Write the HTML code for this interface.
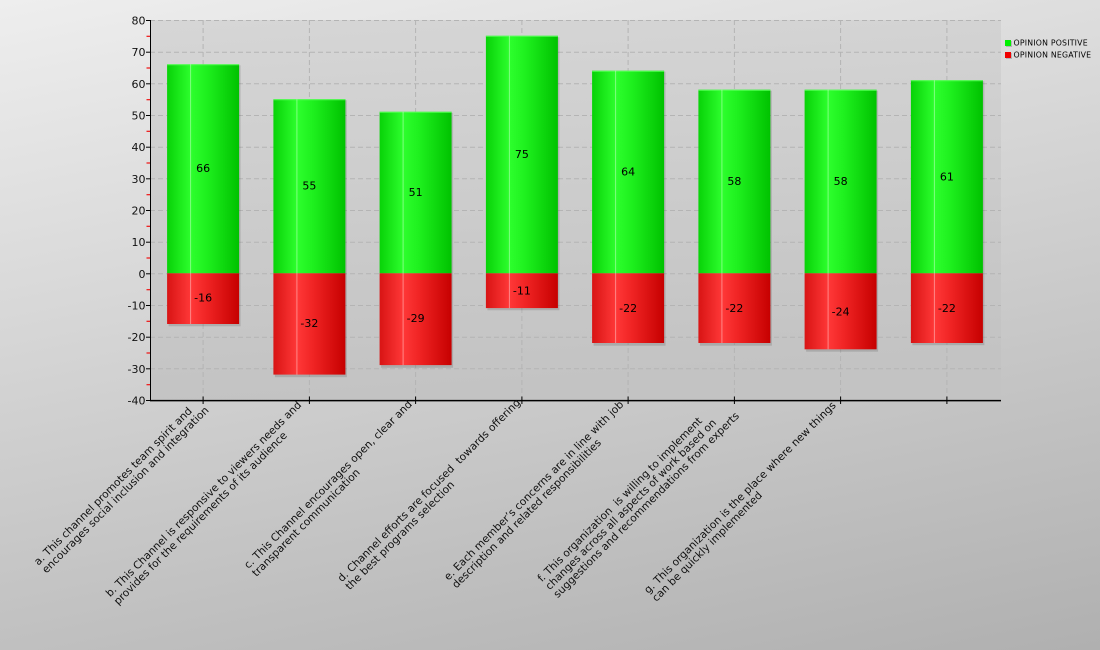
<!DOCTYPE html>
<html><head><meta charset="utf-8"><style>
html,body{margin:0;padding:0;}
body{width:1100px;height:650px;overflow:hidden;}
svg{display:block;font-family:"DejaVu Sans","Liberation Sans",sans-serif;}
</style></head><body>
<svg width="1100" height="650" viewBox="0 0 1100 650" xmlns="http://www.w3.org/2000/svg">
<defs>
<linearGradient id="bg" gradientUnits="userSpaceOnUse" x1="0" y1="0" x2="173" y2="840">
<stop offset="0" stop-color="#eeeeee"/><stop offset="1" stop-color="#b0b0b0"/>
</linearGradient>
<linearGradient id="pbg" x1="0" y1="0" x2="0.15" y2="1">
<stop offset="0" stop-color="#d6d6d6"/><stop offset="1" stop-color="#c3c3c3"/>
</linearGradient>
<linearGradient id="gG" x1="0" y1="0" x2="1" y2="0">
<stop offset="0" stop-color="#08d208"/><stop offset="0.33" stop-color="#2dff2d"/><stop offset="0.55" stop-color="#1ef01e"/><stop offset="1" stop-color="#00c200"/>
</linearGradient>
<linearGradient id="gR" x1="0" y1="0" x2="1" y2="0">
<stop offset="0" stop-color="#d81414"/><stop offset="0.33" stop-color="#ff3838"/><stop offset="0.55" stop-color="#f02424"/><stop offset="1" stop-color="#c60000"/>
</linearGradient>
</defs>
<rect x="0" y="0" width="1100" height="650" fill="url(#bg)"/>
<rect x="150" y="20" width="851" height="380" fill="url(#pbg)"/>
<g stroke="#b4b4b4" stroke-width="1" stroke-dasharray="5,3" fill="none">
<line x1="150" y1="20.5" x2="1001" y2="20.5"/>
<line x1="150" y1="52.2" x2="1001" y2="52.2"/>
<line x1="150" y1="83.8" x2="1001" y2="83.8"/>
<line x1="150" y1="115.5" x2="1001" y2="115.5"/>
<line x1="150" y1="147.2" x2="1001" y2="147.2"/>
<line x1="150" y1="178.8" x2="1001" y2="178.8"/>
<line x1="150" y1="210.5" x2="1001" y2="210.5"/>
<line x1="150" y1="242.2" x2="1001" y2="242.2"/>
<line x1="150" y1="273.8" x2="1001" y2="273.8"/>
<line x1="150" y1="305.5" x2="1001" y2="305.5"/>
<line x1="150" y1="337.2" x2="1001" y2="337.2"/>
<line x1="150" y1="368.8" x2="1001" y2="368.8"/>
<line x1="203.1" y1="20" x2="203.1" y2="400"/>
<line x1="309.4" y1="20" x2="309.4" y2="400"/>
<line x1="415.6" y1="20" x2="415.6" y2="400"/>
<line x1="521.9" y1="20" x2="521.9" y2="400"/>
<line x1="628.1" y1="20" x2="628.1" y2="400"/>
<line x1="734.4" y1="20" x2="734.4" y2="400"/>
<line x1="840.6" y1="20" x2="840.6" y2="400"/>
<line x1="946.9" y1="20" x2="946.9" y2="400"/>
</g>
<g id="bars">
<g fill="#000" fill-opacity="0.13">
<rect x="168.6" y="65.3" width="72" height="261"/>
<rect x="274.9" y="100.2" width="72" height="277"/>
<rect x="381.1" y="112.8" width="72" height="255"/>
<rect x="487.4" y="37.3" width="72" height="273"/>
<rect x="593.6" y="71.7" width="72" height="274"/>
<rect x="699.9" y="90.7" width="72" height="255"/>
<rect x="806.1" y="90.7" width="72" height="261"/>
<rect x="912.4" y="81.2" width="72" height="264"/>
</g>
<g fill="url(#gG)">
<rect x="167.1" y="64.3" width="72" height="209"/>
<rect x="273.4" y="99.2" width="72" height="174.1"/>
<rect x="379.6" y="111.8" width="72" height="161.5"/>
<rect x="485.9" y="35.8" width="72" height="237.5"/>
<rect x="592.1" y="70.7" width="72" height="202.6"/>
<rect x="698.4" y="89.7" width="72" height="183.6"/>
<rect x="804.6" y="89.7" width="72" height="183.6"/>
<rect x="910.9" y="80.2" width="72" height="193.1"/>
</g>
<g fill="url(#gR)">
<rect x="167.1" y="273.3" width="72" height="50.7"/>
<rect x="273.4" y="273.3" width="72" height="101.3"/>
<rect x="379.6" y="273.3" width="72" height="91.8"/>
<rect x="485.9" y="273.3" width="72" height="34.8"/>
<rect x="592.1" y="273.3" width="72" height="69.7"/>
<rect x="698.4" y="273.3" width="72" height="69.7"/>
<rect x="804.6" y="273.3" width="72" height="76"/>
<rect x="910.9" y="273.3" width="72" height="69.7"/>
</g>
<g stroke="#55ff55" stroke-width="1">
<line x1="167.1" y1="64.8" x2="239.1" y2="64.8"/>
<line x1="273.4" y1="99.7" x2="345.4" y2="99.7"/>
<line x1="379.6" y1="112.3" x2="451.6" y2="112.3"/>
<line x1="485.9" y1="36.3" x2="557.9" y2="36.3"/>
<line x1="592.1" y1="71.2" x2="664.1" y2="71.2"/>
<line x1="698.4" y1="90.2" x2="770.4" y2="90.2"/>
<line x1="804.6" y1="90.2" x2="876.6" y2="90.2"/>
<line x1="910.9" y1="80.7" x2="982.9" y2="80.7"/>
</g>
<g stroke="#ffffff" stroke-opacity="0.4" stroke-width="1">
<line x1="190.6" y1="64.3" x2="190.6" y2="324"/>
<line x1="296.9" y1="99.2" x2="296.9" y2="374.6"/>
<line x1="403.1" y1="111.8" x2="403.1" y2="365.1"/>
<line x1="509.4" y1="35.8" x2="509.4" y2="308.1"/>
<line x1="615.6" y1="70.7" x2="615.6" y2="343"/>
<line x1="721.9" y1="89.7" x2="721.9" y2="343"/>
<line x1="828.1" y1="89.7" x2="828.1" y2="349.3"/>
<line x1="934.4" y1="80.2" x2="934.4" y2="343"/>
</g>
</g>
<g font-size="11" fill="#000" text-anchor="middle">
<text x="203.1" y="172">66</text>
<text x="309.4" y="189.5">55</text>
<text x="415.6" y="195.8">51</text>
<text x="521.9" y="158">75</text>
<text x="628.1" y="175.5">64</text>
<text x="734.4" y="185">58</text>
<text x="840.6" y="185">58</text>
<text x="946.9" y="180.3">61</text>
<text x="203.1" y="301.7">-16</text>
<text x="309.4" y="327">-32</text>
<text x="415.6" y="322.2">-29</text>
<text x="521.9" y="294.7">-11</text>
<text x="628.1" y="312.2">-22</text>
<text x="734.4" y="312.2">-22</text>
<text x="840.6" y="315.3">-24</text>
<text x="946.9" y="312.2">-22</text>
</g>
<g stroke="#ee1111" stroke-width="1.2">
<line x1="146.5" y1="36.3" x2="150.5" y2="36.3"/>
<line x1="146.5" y1="68" x2="150.5" y2="68"/>
<line x1="146.5" y1="99.7" x2="150.5" y2="99.7"/>
<line x1="146.5" y1="131.3" x2="150.5" y2="131.3"/>
<line x1="146.5" y1="163" x2="150.5" y2="163"/>
<line x1="146.5" y1="194.7" x2="150.5" y2="194.7"/>
<line x1="146.5" y1="226.3" x2="150.5" y2="226.3"/>
<line x1="146.5" y1="258" x2="150.5" y2="258"/>
<line x1="146.5" y1="289.7" x2="150.5" y2="289.7"/>
<line x1="146.5" y1="321.3" x2="150.5" y2="321.3"/>
<line x1="146.5" y1="353" x2="150.5" y2="353"/>
<line x1="146.5" y1="384.7" x2="150.5" y2="384.7"/>
</g>
<g stroke="#000" stroke-width="1">
<line x1="146" y1="20.5" x2="151" y2="20.5"/>
<line x1="146" y1="52.2" x2="151" y2="52.2"/>
<line x1="146" y1="83.8" x2="151" y2="83.8"/>
<line x1="146" y1="115.5" x2="151" y2="115.5"/>
<line x1="146" y1="147.2" x2="151" y2="147.2"/>
<line x1="146" y1="178.8" x2="151" y2="178.8"/>
<line x1="146" y1="210.5" x2="151" y2="210.5"/>
<line x1="146" y1="242.2" x2="151" y2="242.2"/>
<line x1="146" y1="273.8" x2="151" y2="273.8"/>
<line x1="146" y1="305.5" x2="151" y2="305.5"/>
<line x1="146" y1="337.2" x2="151" y2="337.2"/>
<line x1="146" y1="368.8" x2="151" y2="368.8"/>
<line x1="146" y1="400.5" x2="151" y2="400.5"/>
<line x1="150.5" y1="20" x2="150.5" y2="401"/>
<line x1="203.1" y1="396.5" x2="203.1" y2="404"/>
<line x1="309.4" y1="396.5" x2="309.4" y2="404"/>
<line x1="415.6" y1="396.5" x2="415.6" y2="404"/>
<line x1="521.9" y1="396.5" x2="521.9" y2="404"/>
<line x1="628.1" y1="396.5" x2="628.1" y2="404"/>
<line x1="734.4" y1="396.5" x2="734.4" y2="404"/>
<line x1="840.6" y1="396.5" x2="840.6" y2="404"/>
<line x1="946.9" y1="396.5" x2="946.9" y2="404"/>
</g>
<line x1="150" y1="400.6" x2="1001" y2="400.6" stroke="#000" stroke-width="1.5"/>
<g font-size="11" fill="#111" text-anchor="end">
<text x="145.5" y="24.5">80</text>
<text x="145.5" y="56.2">70</text>
<text x="145.5" y="87.8">60</text>
<text x="145.5" y="119.5">50</text>
<text x="145.5" y="151.2">40</text>
<text x="145.5" y="182.8">30</text>
<text x="145.5" y="214.5">20</text>
<text x="145.5" y="246.2">10</text>
<text x="145.5" y="277.8">0</text>
<text x="145.5" y="309.5">-10</text>
<text x="145.5" y="341.2">-20</text>
<text x="145.5" y="372.8">-30</text>
<text x="145.5" y="404.5">-40</text>
</g>
<g font-size="10.6" fill="#111" dominant-baseline="middle">
<text transform="translate(36.3,563.7) rotate(-45)"><tspan x="0" y="0">a. This channel promotes team spirit and</tspan><tspan x="0" y="11.3">encourages social inclusion and integration</tspan></text>
<text transform="translate(108,595.3) rotate(-45)"><tspan x="0" y="0">b. This Channel is responsive to viewers needs and</tspan><tspan x="0" y="11.3">provides for the requirements of its audience</tspan></text>
<text transform="translate(246.3,567) rotate(-45)"><tspan x="0" y="0">c. This Channel encourages open, clear and</tspan><tspan x="0" y="11.3">transparent communication</tspan></text>
<text transform="translate(339.7,580.3) rotate(-45)"><tspan x="0" y="0">d. Channel efforts are focused &#160;towards offering</tspan><tspan x="0" y="11.3">the best programs selection</tspan></text>
<text transform="translate(446.3,578.7) rotate(-45)"><tspan x="0" y="0">e. Each member’s concerns are in line with job</tspan><tspan x="0" y="11.3">description and related responsibilities</tspan></text>
<text transform="translate(539.7,580.3) rotate(-45)"><tspan x="0" y="0">f. This organization &#160;is willing to implement</tspan><tspan x="0" y="11.3">changes across all aspects of work based on</tspan><tspan x="0" y="22.6">suggestions and recommendations from experts</tspan></text>
<text transform="translate(646.3,592) rotate(-45)"><tspan x="0" y="0">g. This organization is the place where new things</tspan><tspan x="0" y="11.3">can be quickly implemented</tspan></text>
</g>
<rect x="1006" y="41" width="6" height="6" fill="#999" fill-opacity="0.6"/>
<rect x="1005" y="40" width="6" height="6" fill="#00f000"/>
<rect x="1006" y="53" width="6" height="6" fill="#999" fill-opacity="0.6"/>
<rect x="1005" y="52" width="6" height="6" fill="#f00000"/>
<g font-size="7.8" fill="#000" letter-spacing="0.2">
<text x="1013.5" y="45.6">OPINION POSITIVE</text>
<text x="1013.5" y="57.6">OPINION NEGATIVE</text>
</g>
</svg>
</body></html>
